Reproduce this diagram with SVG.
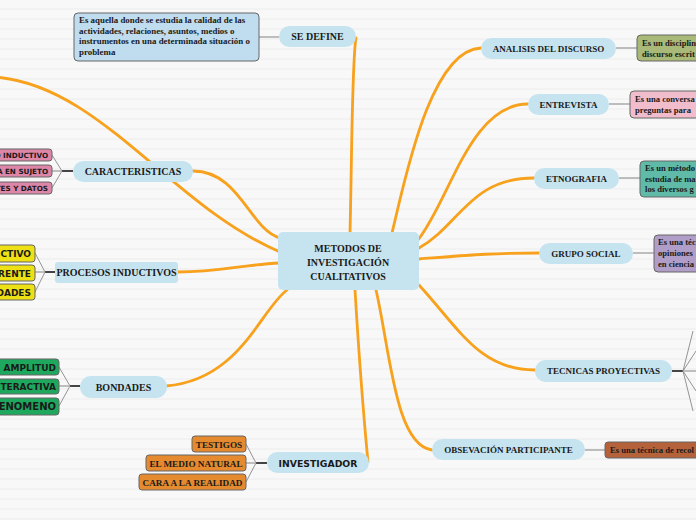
<svg xmlns="http://www.w3.org/2000/svg" width="696" height="520" viewBox="0 0 696 520">
<defs>
<pattern id="bg" width="10" height="10" patternUnits="userSpaceOnUse">
<rect width="10" height="10" fill="#f8f8f8"/>
<rect y="8" width="10" height="2" fill="#f2f2f2"/>
</pattern>
</defs>
<style>
.pill{fill:#c6e4f0;}
.pt{font-family:"Liberation Serif",serif;font-weight:bold;font-size:10px;fill:#1a1a1a;text-anchor:middle;}
.pr{font-size:9px;}
.st{font-family:"DejaVu Sans",sans-serif;font-weight:bold;fill:#1a1a1a;}
.dt{font-family:"Liberation Serif",serif;font-weight:bold;font-size:8.6px;fill:#1a1a1a;}
.main{fill:none;stroke:#f7a11c;stroke-width:2.8;stroke-linecap:round;}
.g{fill:none;stroke:#aaa;stroke-width:1.5;}
.gl{fill:none;stroke:#888;stroke-width:0.9;}
.dk{fill:none;stroke:#444;stroke-width:2;}
.box{stroke:#666;stroke-width:1;}
</style>
<rect width="696" height="520" fill="url(#bg)"/>

<g id="connectors">
<path class="main" d="M -5 77 C 100 85, 170 205, 280 252"/>
<path class="main" d="M 193 171 C 240 171, 250 230, 280 238"/>
<path class="main" d="M 178 272 C 220 272, 240 265, 280 263"/>
<path class="main" d="M 166 386 C 240 380, 260 310, 287 290"/>
<path class="main" d="M 368 462 C 364 420, 358 340, 355 290"/>
<path class="main" d="M 350 233 C 352 150, 352 60, 356 38"/>
<path class="main" d="M 392 233 C 405 180, 430 50, 481 48"/>
<path class="main" d="M 418 240 C 450 200, 470 104, 528 104"/>
<path class="main" d="M 419 248 C 460 225, 470 178, 534 178"/>
<path class="main" d="M 419 259 C 470 255, 490 253, 540 253"/>
<path class="main" d="M 419 285 C 460 330, 480 370, 535 370"/>
<path class="main" d="M 376 290 C 390 350, 395 445, 432 450"/>
<path class="g" d="M 259 37 L 279 37"/>
<path class="g" d="M 616 48 L 637 48"/>
<path class="g" d="M 609 104 L 630 104"/>
<path class="g" d="M 619 178 L 640 178"/>
<path class="g" d="M 633 253 L 654 253"/>
<path class="g" d="M 585 450 L 605 450"/>
<path class="dk" d="M 62 171 L 73 171 M 45 272 L 55 272 M 70 386 L 80 386 M 256 463 L 267 463 M 672 371 L 683 371"/>
<path class="gl" d="M 52 155 L 62 171 L 52 188 M 35 253 L 45 272 L 35 292 M 59 367 L 70 386 L 59 406 M 246 444 L 256 463 L 246 482 M 693 331 L 683 371 L 693 411 M 696 351 L 683 371 L 696 391"/>
<path class="g" d="M 52 171 L 62 171 M 35 272 L 45 272 M 59 386 L 70 386 M 246 463 L 256 463 M 683 371 L 696 371"/>
</g>

<g id="center">
<rect x="278" y="232" width="141" height="58" rx="5" class="pill"/>
<text class="pt" x="348" y="252">METODOS DE</text>
<text class="pt" x="348" y="266">INVESTIGACIÓN</text>
<text class="pt" x="348" y="280">CUALITATIVOS</text>
</g>

<g id="se-define">
<rect x="279" y="26" width="77" height="21" rx="10.5" class="pill"/>
<text class="pt" x="317.5" y="40">SE DEFINE</text>
</g>
<g id="se-define-desc">
<rect x="74" y="13" width="185" height="48" rx="4" fill="#c0dcef" class="box"/>
<text class="dt" style="font-size:8.9px" x="79" y="23">Es aquella donde se estudia la calidad de las</text>
<text class="dt" style="font-size:8.9px" x="79" y="33.5">actividades, relaciones, asuntos, medios o</text>
<text class="dt" style="font-size:8.9px" x="79" y="44">instrumentos en una determinada situación o</text>
<text class="dt" style="font-size:8.9px" x="79" y="54.5">problema</text>
</g>

<g id="caracteristicas">
<rect x="73" y="161" width="120" height="21" rx="10.5" class="pill"/>
<text class="pt" x="133" y="175">CARACTERISTICAS</text>
</g>
<g id="car-1"><rect x="-10" y="149" width="62" height="12" rx="3" fill="#de86a8" class="box"/><text class="st" font-size="7.2" x="48" y="158" text-anchor="end">O INDUCTIVO</text></g>
<g id="car-2"><rect x="-10" y="165" width="62" height="12" rx="3" fill="#de86a8" class="box"/><text class="st" font-size="7.2" x="48" y="174" text-anchor="end">A EN SUJETO</text></g>
<g id="car-3"><rect x="-10" y="182" width="62" height="12" rx="3" fill="#de86a8" class="box"/><text class="st" font-size="7.2" x="48" y="191" text-anchor="end">TES Y DATOS</text></g>

<g id="procesos">
<rect x="55" y="262" width="123" height="21" rx="3" class="pill"/>
<text class="pt" x="116.5" y="276">PROCESOS INDUCTIVOS</text>
</g>
<g id="proc-1"><rect x="-10" y="245" width="45" height="17" rx="3" fill="#ede014" class="box"/><text class="st" font-size="9" x="31" y="257" text-anchor="end">CTIVO</text></g>
<g id="proc-2"><rect x="-10" y="265" width="45" height="16" rx="3" fill="#ede014" class="box"/><text class="st" font-size="9" x="31" y="276.5" text-anchor="end">RENTE</text></g>
<g id="proc-3"><rect x="-10" y="284" width="45" height="16" rx="3" fill="#ede014" class="box"/><text class="st" font-size="9" x="31" y="295.5" text-anchor="end">DADES</text></g>

<g id="bondades">
<rect x="80" y="376" width="87" height="22" rx="11" class="pill"/>
<text class="pt" x="123.5" y="390.5">BONDADES</text>
</g>
<g id="bon-1"><rect x="-10" y="359" width="69" height="16" rx="3" fill="#1ea85e" class="box"/><text class="st" font-size="9" x="56" y="370.5" text-anchor="end">AMPLITUD</text></g>
<g id="bon-2"><rect x="-10" y="379" width="69" height="15" rx="3" fill="#1ea85e" class="box"/><text class="st" font-size="9" x="56" y="390" text-anchor="end">TERACTIVA</text></g>
<g id="bon-3"><rect x="-10" y="398" width="69" height="17" rx="3" fill="#1ea85e" class="box"/><text class="st" font-size="10" x="56" y="410" text-anchor="end">FENOMENO</text></g>

<g id="investigador">
<rect x="267" y="452" width="102" height="21" rx="10.5" class="pill"/>
<text class="st" font-size="9.3" x="318" y="466.5" text-anchor="middle">INVESTIGADOR</text>
</g>
<g id="inv-1"><rect x="192" y="436" width="54" height="16" rx="3" fill="#e58a2e" class="box"/><text class="dt" style="font-size:9.2px" x="219" y="447.5" text-anchor="middle">TESTIGOS</text></g>
<g id="inv-2"><rect x="146" y="455" width="100" height="16" rx="3" fill="#e58a2e" class="box"/><text class="dt" style="font-size:9.2px" x="196" y="466.5" text-anchor="middle">EL MEDIO NATURAL</text></g>
<g id="inv-3"><rect x="139" y="474" width="107" height="16" rx="3" fill="#e58a2e" class="box"/><text class="dt" style="font-size:9.2px" x="192.5" y="485.5" text-anchor="middle">CARA A LA REALIDAD</text></g>

<g id="analisis">
<rect x="481" y="38" width="135" height="21" rx="10.5" class="pill"/>
<text class="pt pr" x="548.5" y="52">ANALISIS DEL DISCURSO</text>
</g>
<g id="analisis-desc"><rect x="637" y="35" width="70" height="26" rx="4" fill="#a9b978" class="box"/>
<text class="dt" x="642" y="46">Es un disciplin</text><text class="dt" x="642" y="57">discurso escrit</text></g>

<g id="entrevista">
<rect x="528" y="94" width="81" height="21" rx="10.5" class="pill"/>
<text class="pt pr" x="568.5" y="108">ENTREVISTA</text>
</g>
<g id="entrevista-desc"><rect x="630" y="91" width="80" height="27" rx="4" fill="#f1bccb" class="box"/>
<text class="dt" x="635" y="102">Es una conversa</text><text class="dt" x="635" y="113">preguntas para</text></g>

<g id="etnografia">
<rect x="534" y="168" width="85" height="21" rx="10.5" class="pill"/>
<text class="pt pr" x="576.5" y="182">ETNOGRAFIA</text>
</g>
<g id="etnografia-desc"><rect x="640" y="161" width="70" height="36" rx="4" fill="#5fbba8" class="box"/>
<text class="dt" x="645" y="171">Es un método</text><text class="dt" x="645" y="182">estudia de ma</text><text class="dt" x="645" y="192">los diversos g</text></g>

<g id="grupo-social">
<rect x="539" y="243" width="94" height="21" rx="10.5" class="pill"/>
<text class="pt pr" x="586" y="257">GRUPO SOCIAL</text>
</g>
<g id="grupo-social-desc"><rect x="654" y="235" width="60" height="37" rx="4" fill="#b09ec9" class="box"/>
<text class="dt" x="658" y="245">Es una téc</text><text class="dt" x="658" y="256">opiniones</text><text class="dt" x="658" y="267">en ciencia</text></g>

<g id="tecnicas">
<rect x="535" y="360" width="137" height="22" rx="11" class="pill"/>
<text class="pt pr" x="603.5" y="374">TECNICAS PROYECTIVAS</text>
</g>

<g id="observacion">
<rect x="432" y="439" width="153" height="21" rx="10.5" class="pill"/>
<text class="pt pr" x="508.5" y="453">OBSEVACIÓN PARTICIPANTE</text>
</g>
<g id="observacion-desc"><rect x="605" y="442" width="110" height="16" rx="3" fill="#b5623a" class="box"/>
<text class="dt" x="610" y="453">Es una técnica de recol</text></g>
</svg>
